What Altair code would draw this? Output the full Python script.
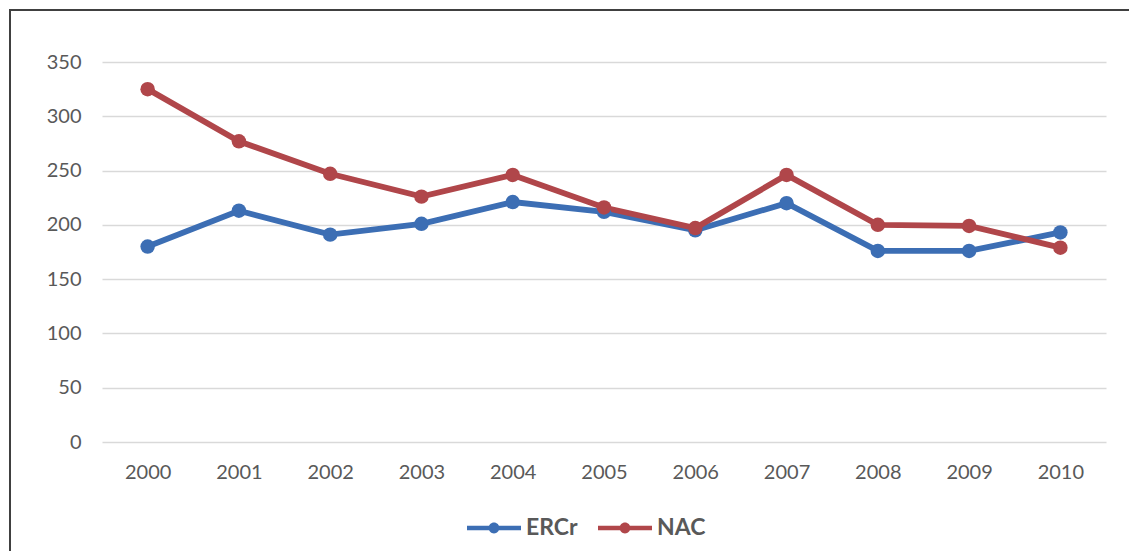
import altair as alt
import pandas as pd

years = ["2000", "2001", "2002", "2003", "2004", "2005", "2006", "2007", "2008", "2009", "2010"]
ercr = [180, 213, 191, 201, 221, 212, 195, 220, 176, 176, 193]
nac = [325, 277, 247, 226, 246, 216, 197, 246, 200, 199, 179]
series = ["ERCr", "NAC"]
colors = ["#3c6eb4", "#b0464a"]
y_ticks = [0, 50, 100, 150, 200, 250, 300, 350]

rows = []
for name, vals in zip(series, [ercr, nac]):
    for yr, v in zip(years, vals):
        rows.append({"Year": yr, "Value": v, "Series": name})
df = pd.DataFrame(rows)

FONT = "Lato"
TEXT = "#595959"

x_enc = alt.X("Year:N", sort=years,
              scale=alt.Scale(type="point", padding=0.5),
              axis=alt.Axis(title=None, labelAngle=0, ticks=False, domain=False,
                            labelFontSize=20, labelColor=TEXT, labelFont=FONT,
                            labelPadding=20, grid=False))
y_enc = alt.Y("Value:Q", scale=alt.Scale(domain=[0, 350], nice=False),
              axis=alt.Axis(title=None, values=y_ticks, ticks=False, domain=False,
                            labelFontSize=20, labelColor=TEXT, labelFont=FONT,
                            labelPadding=21, gridColor="#d9d9d9", gridWidth=1.5))
color_scale = alt.Scale(domain=series, range=colors)

legend_path = ("M-1,-0.085L1,-0.085L1,0.085L-1,0.085Z "
               "M0.2,0A0.2,0.2 0 1,1 -0.2,0A0.2,0.2 0 1,1 0.2,0Z")
legend = alt.Legend(title=None, orient="none", direction="horizontal",
                    legendX=365, legendY=439, padding=0,
                    symbolType=legend_path, symbolSize=2916,
                    symbolStrokeWidth=0, symbolOpacity=1,
                    labelFontSize=23, labelFontWeight="bold",
                    labelColor=TEXT, labelFont=FONT,
                    labelOffset=5, columnPadding=20)
color_enc = alt.Color("Series:N", scale=color_scale, legend=legend)

lines = alt.Chart(df).mark_line(strokeWidth=5.8).encode(
    x=x_enc, y=y_enc, color=color_enc,
)
points = alt.Chart(df).mark_point(filled=True, size=210, opacity=1).encode(
    x=x_enc, y=y_enc, color=color_enc,
)

border = alt.Chart(pd.DataFrame({"a": [0]})).mark_rect(
    fill=None, stroke="#404040", strokeWidth=2
).encode(x=alt.value(-92), x2=alt.value(1100), y=alt.value(-52), y2=alt.value(600))

chart = alt.layer(border, lines, points).properties(
    width=1004, height=380,
    background="white",
    autosize=alt.AutoSizeParams(type="none"),
    padding={"left": 94, "top": 54, "right": 23, "bottom": 109},
).configure_view(stroke=None)

chart.save("out.html", embed_options={"renderer": "svg", "actions": False})
